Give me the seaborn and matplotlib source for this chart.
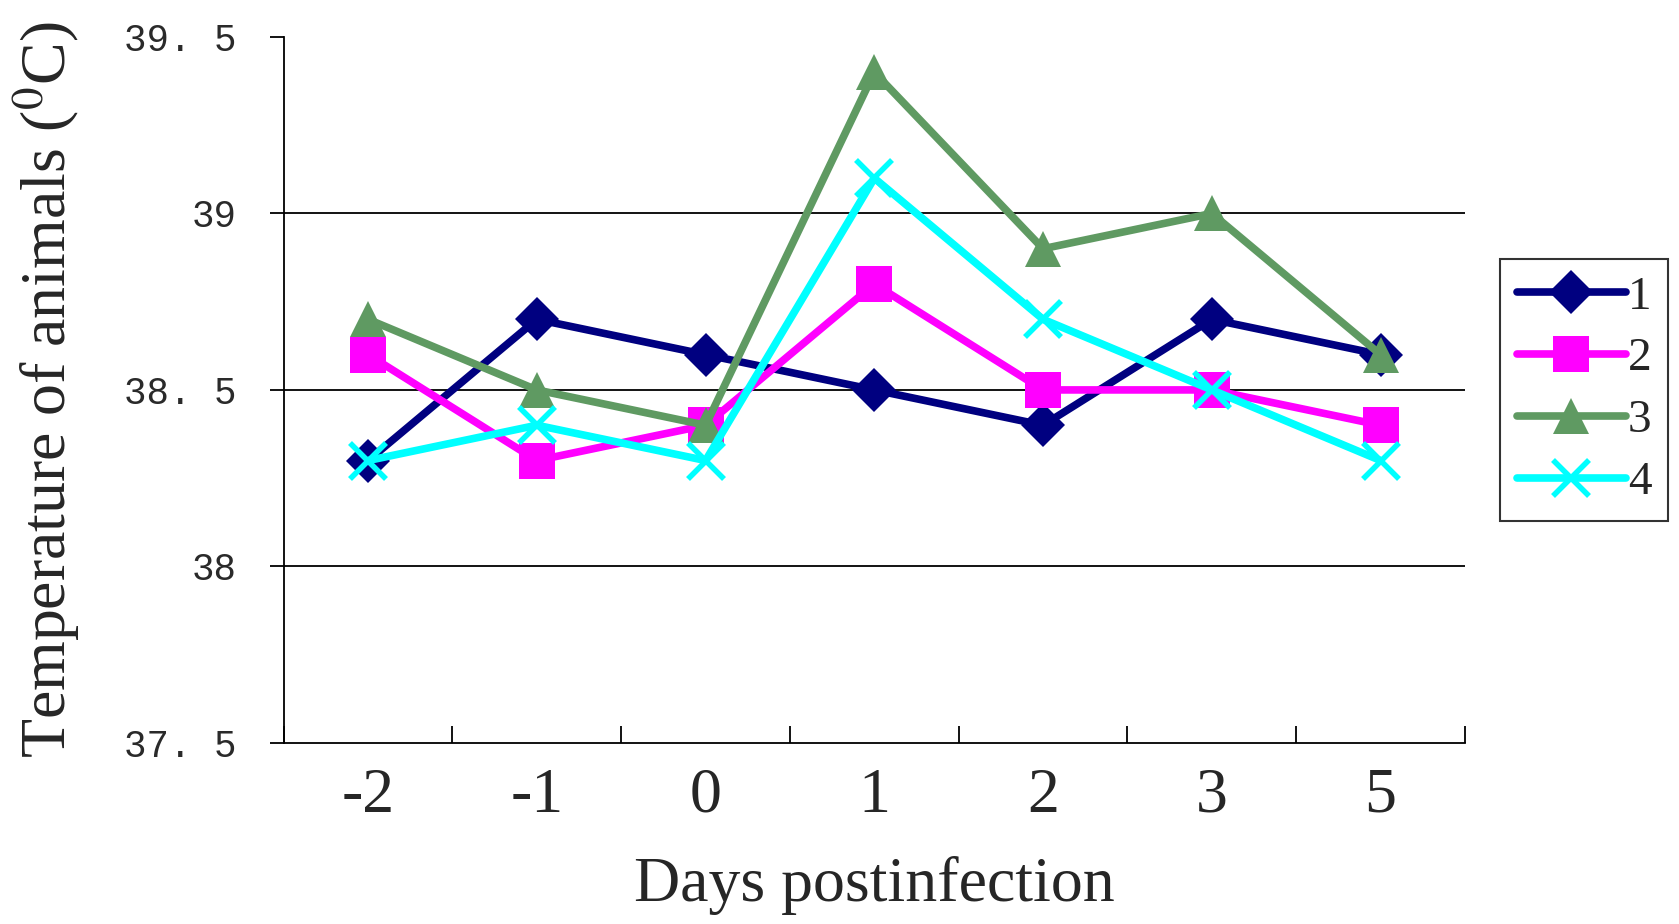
import pandas as pd
import matplotlib
matplotlib.use("Agg")
import matplotlib.pyplot as plt
import seaborn as sns

# values
days = ['-2', '-1', '0', '1', '2', '3', '5']
group_1 = [38.3, 38.7, 38.6, 38.5, 38.4, 38.7, 38.6]
group_2 = [38.6, 38.3, 38.4, 38.8, 38.5, 38.5, 38.4]
group_3 = [38.7, 38.5, 38.4, 39.4, 38.9, 39.0, 38.6]
group_4 = [38.3, 38.4, 38.3, 39.1, 38.7, 38.5, 38.3]
y_ticks = [37.5, 38, 38.5, 39, 39.5]
y_labels = ['37. 5', '38', '38. 5', '39', '39. 5']

groups = {'1': group_1, '2': group_2, '3': group_3, '4': group_4}
rows = []
for name, vals in groups.items():
    for i, v in enumerate(vals):
        rows.append({'pos': i, 'day': days[i], 'group': name, 'temp': v})
df = pd.DataFrame(rows)

sns.set_style("white")
plt.rcParams['font.family'] = ['Liberation Serif', 'DejaVu Serif']
plt.rcParams['mathtext.fontset'] = 'stix'

palette = {'1': '#000080', '2': '#FF00FF', '3': '#5F9A62', '4': '#00FFFF'}
markers = {'1': 'D', '2': 's', '3': '^', '4': 'X'}

fig = plt.figure(figsize=(16.79, 9.24), dpi=100)
ax = fig.add_axes([0.169, 0.196, 0.7035, 0.764])

for y in [38, 38.5, 39]:
    ax.axhline(y, color='black', lw=1.3, zorder=0)

sns.lineplot(data=df, x='pos', y='temp', hue='group', style='group',
             palette=palette, markers=markers, dashes=False, lw=5.5,
             markersize=26, markeredgewidth=0, ax=ax, legend=True)

# seaborn won't mix filled and line markers, so swap to a thin cross afterwards
def fix_markers(lines):
    for l in lines:
        m = l.get_marker()
        if m == 'X':
            l.set_marker('x')
            l.set_markeredgewidth(4)
            l.set_markeredgecolor('#00FFFF')
        elif m == 'D':
            l.set_markersize(22)

fix_markers(ax.get_lines())

ax.set_xlim(-0.5, 6.5)
ax.set_ylim(37.5, 39.5)
ax.set_xticks(range(len(days)))
ax.set_xticklabels(days, fontsize=46)
ax.set_xticks([i + 0.5 for i in range(-1, len(days))], minor=True)
ax.tick_params(axis='x', which='major', length=0, pad=18, bottom=False)
ax.tick_params(axis='x', which='minor', direction='in', length=12, width=1.3,
               color='black', bottom=True)
ax.set_yticks(y_ticks)
ax.set_yticklabels(y_labels, fontsize=27, family='Liberation Mono', color='#2a2a2a')
ax.tick_params(axis='y', direction='out', length=10, width=1.3, color='black', pad=24, left=True)

for s in ['top', 'right']:
    ax.spines[s].set_visible(False)
for s in ['left', 'bottom']:
    ax.spines[s].set_color('black')
    ax.spines[s].set_linewidth(1.3)

ax.set_xlabel('Days postinfection', fontsize=46, labelpad=22)
ax.set_ylabel('Temperature of animals ($^{0}$C)', fontsize=46, labelpad=30)

leg = ax.legend(loc='center left', bbox_to_anchor=(1.03, 0.50), fontsize=34,
                frameon=True, fancybox=False, edgecolor='black', handlelength=2.3,
                handletextpad=0.05, borderpad=0.35, labelspacing=0.4,
                borderaxespad=0, title=None)
leg.get_frame().set_linewidth(1.5)
fix_markers(leg.get_lines())

fig.savefig('out.png', dpi=100)
